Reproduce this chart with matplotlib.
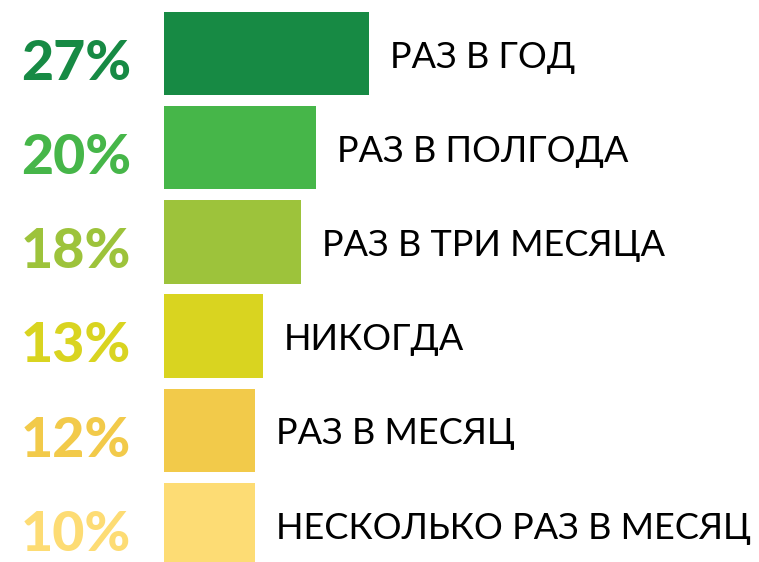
import matplotlib.pyplot as plt

labels = ['РАЗ В ГОД', 'РАЗ В ПОЛГОДА', 'РАЗ В ТРИ МЕСЯЦА', 'НИКОГДА',
          'РАЗ В МЕСЯЦ', 'НЕСКОЛЬКО РАЗ В МЕСЯЦ']
percents = [27, 20, 18, 13, 12, 10]
# bar lengths as drawn in the picture (the 10% bar is drawn as long as the 12% one)
bar_lengths = [27, 20, 18, 13, 12, 12]
colors = ['#178A44', '#46B649', '#9DC33B', '#D9D420', '#F2CA4A', '#FDDC74']

fig = plt.figure(figsize=(7.59, 5.62), dpi=100)
ax = fig.add_axes([0, 0, 1, 1])

ypos = list(range(len(labels)))
ax.barh(ypos, bar_lengths, height=0.886, color=colors, left=0)

for y, p, w, lab, c in zip(ypos, percents, bar_lengths, labels, colors):
    ax.text(-4.3, y + 0.28, f'{p}%', ha='right', va='baseline',
            fontsize=40, fontweight='black', color=c, family='Lato')
    ax.text(w + 2.75, y + 0.15, lab, ha='left', va='baseline',
            fontsize=26, color='black', family='Lato')

ax.set_xlim(-164 / 7.6, (759 - 164) / 7.6)
ax.set_ylim((562 - 53.5) / 94.2, -53.5 / 94.2)
ax.axis('off')

plt.savefig('out.png', dpi=100)
